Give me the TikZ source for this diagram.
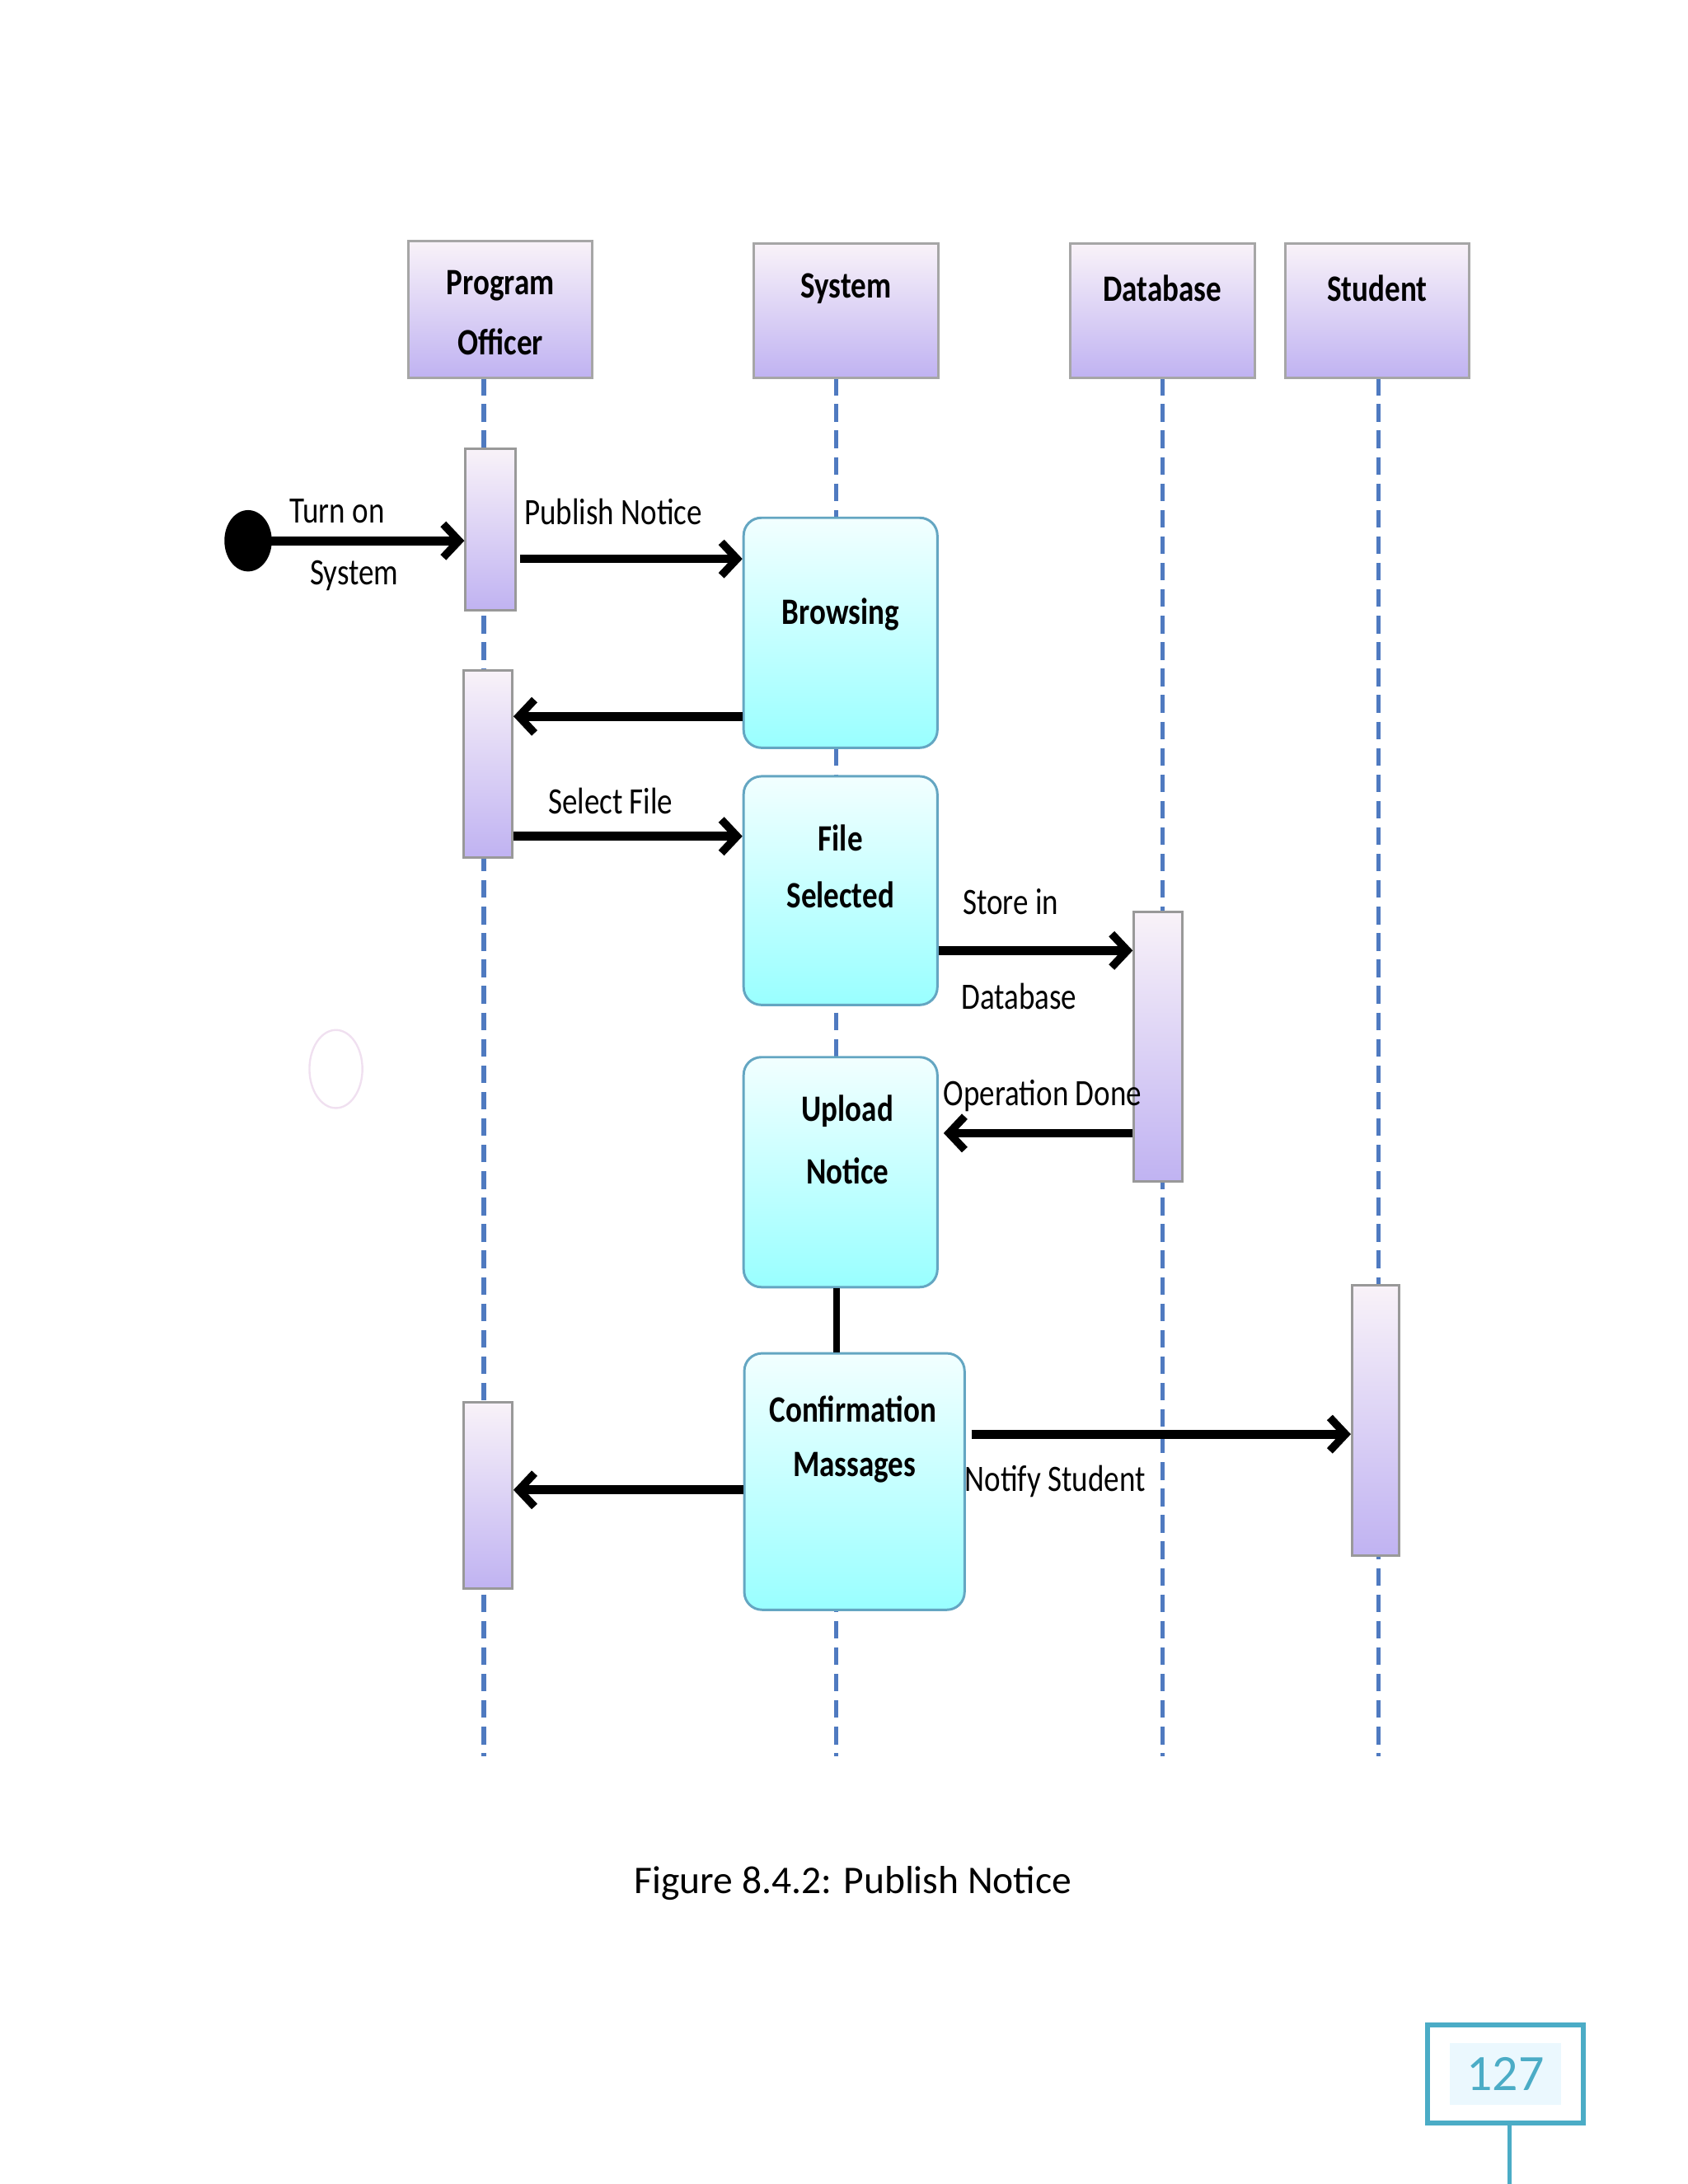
\documentclass[tikz,border=0pt]{standalone}
\usepackage{fontspec}
\setmainfont{Carlito}
\newfontfamily\narrow{Carlito}[FakeStretch=0.82]
\usetikzlibrary{arrows.meta}
\definecolor{lifeblue}{HTML}{4F7AC0}
\definecolor{teal}{HTML}{4BACC6}
\begin{document}
\begin{tikzpicture}[x=0.05cm,y=-0.05cm,
  hdr/.style={draw=gray!70,line width=2.5pt,top color=violet!5,bottom color=violet!35!blue!30},
  life/.style={lifeblue,line width=4.5pt,dash pattern=on 18pt off 9pt},
  act/.style={draw=gray!80,line width=2.5pt,top color=violet!5,bottom color=violet!35!blue!30},
  state/.style={draw=cyan!50!gray,line width=2.5pt,rounded corners=18pt,top color=cyan!5,bottom color=cyan!40},
  btxt/.style={font=\narrow\fontsize{38}{46}\selectfont\bfseries},
  msg/.style={line width=9pt,-{Straight Barb[length=16pt,width=34pt,line width=8pt]}},
  lbl/.style={font=\narrow\fontsize{38}{46}\selectfont}]
\useasboundingbox (0,0) rectangle (1211,1567);
% lifelines
\foreach \x in {347,600,834,989} \draw[life] (\x,271) -- (\x,1260);
% headers
\node[hdr,minimum width=132*0.05cm,minimum height=98*0.05cm] (po) at (359,222) {};
\node[hdr,minimum width=132*0.05cm,minimum height=96*0.05cm] (sys) at (607,223) {};
\node[hdr,minimum width=132*0.05cm,minimum height=96*0.05cm] (db) at (834,223) {};
\node[hdr,minimum width=132*0.05cm,minimum height=96*0.05cm] (st) at (988,223) {};
\node[btxt] (t1) at (359,205) {Program};
\node[btxt] (t2) at (359,245) {Officer};
\node[btxt] (t3) at (607,207) {System};
\node[btxt] (t4) at (834,207) {Database};
\node[btxt] (t5) at (988,207) {Student};
% activations
\node[act,minimum width=36*0.05cm,minimum height=116*0.05cm] (a1) at (352,380) {};
\node[act,minimum width=35*0.05cm,minimum height=134*0.05cm] (a2) at (350,548) {};
\node[act,minimum width=35*0.05cm,minimum height=134*0.05cm] (a3) at (350,1073) {};
\node[act,minimum width=35*0.05cm,minimum height=193*0.05cm] (a4) at (831,751) {};
\node[act,minimum width=34*0.05cm,minimum height=194*0.05cm] (a5) at (987,1019) {};
% states
\node[state,minimum width=139*0.05cm,minimum height=165*0.05cm] (br) at (603,454) {};
\node[state,minimum width=139*0.05cm,minimum height=164*0.05cm] (fs) at (603,639) {};
\node[state,minimum width=139*0.05cm,minimum height=165*0.05cm] (un) at (603,841) {};
\node[state,minimum width=158*0.05cm,minimum height=184*0.05cm] (cm) at (613,1063) {};
\node[btxt] (s1) at (603,441) {Browsing};
\node[btxt] (s2) at (603,601) {File};
\node[btxt] (s3) at (603,642) {Selected};
\node[btxt] (s4) at (608,797) {Upload};
\node[btxt] (s5) at (608,840) {Notice};
\node[btxt] (s6) at (612,1011) {Confirmation};
\node[btxt] (s7) at (613,1053) {Massages};
% start
\fill (178,388) circle (17 and 22);
\node[circle,inner sep=0pt,minimum size=0pt] (s0) at (190,388) {};
\draw[msg] (s0) -- (a1.west |- s0);
\node[lbl] (l1) at (242,367) {Turn on};
\node[lbl] (l2) at (254,413) {System};
% messages
\draw[msg] (373,401) coordinate (m1) -- (br.west |- m1);
\node[lbl] (l3) at (440,367) {Publish Notice};
\draw[msg] (br.west |- 0,514) -- (a2.east |- 0,514);
\draw[msg] (a2.east |- 0,600) -- (fs.west |- 0,600);
\node[lbl] (l4) at (438,575) {Select File};
\draw[msg] (fs.east |- 0,682) -- (a4.west |- 0,682);
\node[lbl] (l5) at (725,647) {Store in};
\node[lbl] (l6) at (731,715) {Database};
\draw[msg] (a4.west |- 0,813) -- (677,813);
\node[lbl] (l7) at (748,786) {Operation Done};
\draw[line width=7pt] (un.south -| 600,0) -- (cm.north -| 600,0);
\draw[msg] (cm.west |- 0,1069) -- (a3.east |- 0,1069);
\draw[msg] (697,1029) -- (a5.west |- 0,1029);
\node[lbl] (l8) at (757,1063) {Notify Student};
% faint circle
\draw[violet!12,line width=2pt] (241,767) ellipse (19 and 28);
% caption
\node[font=\fontsize{40}{48}\selectfont] (cap) at (612,1351) {Figure 8.4.2: Publish Notice};
% page number
\draw[teal,line width=5pt] (1024,1453) rectangle (1136,1523);
\fill[cyan!8] (1040,1466) rectangle (1120,1510);
\node[teal,font=\fontsize{52}{60}\selectfont] (pg) at (1080,1488) {127};
\draw[teal,line width=5pt] (1083,1523) -- (1083,1567);
\end{tikzpicture}
\end{document}
